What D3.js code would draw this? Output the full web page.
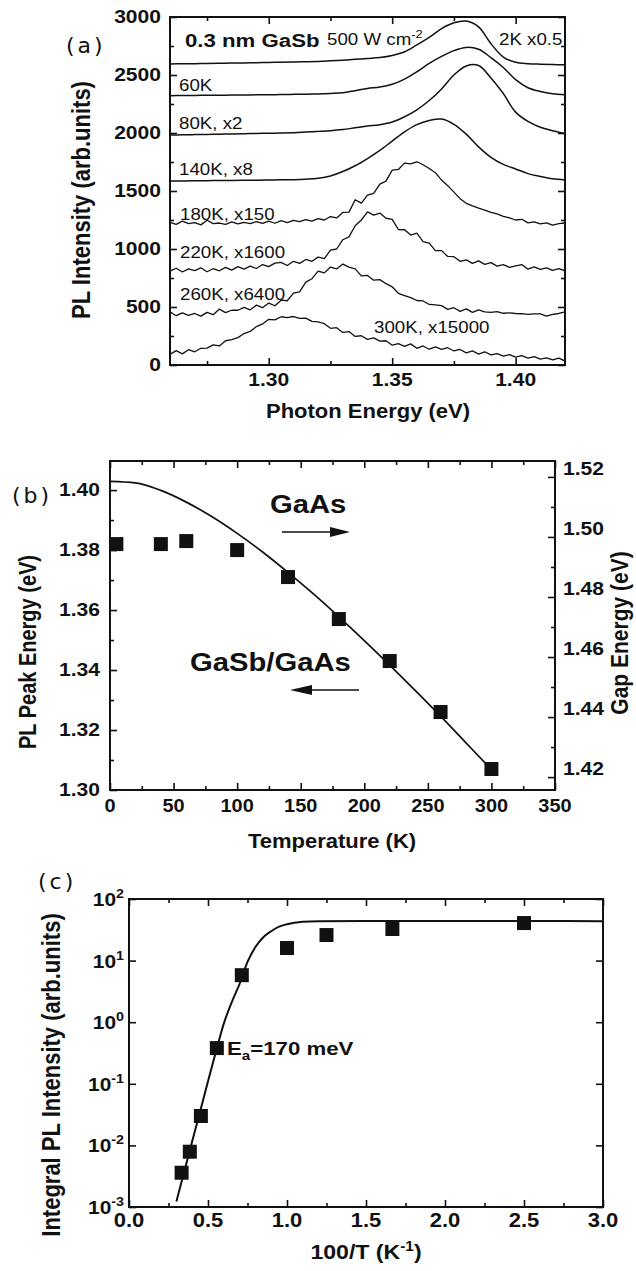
<!DOCTYPE html>
<html>
<head>
<meta charset="utf-8">
<script src="https://cdn.jsdelivr.net/npm/d3@7"></script>
<style>
body { margin:0; background:#fff; }
svg { display:block; font-family:"Liberation Sans", Arial, sans-serif; }
</style>
</head>
<body>
<script>
// ---------- panel (a): PL spectra ----------
var energyA = [1.260,1.265,1.270,1.275,1.280,1.285,1.290,1.295,1.300,1.305,1.310,1.315,1.320,1.325,1.330,1.335,1.340,
    1.345,1.350,1.355,1.360,1.365,1.370,1.375,1.380,1.385,1.390,1.395,1.400,1.405,1.410,1.415,1.420];
var pl2K = [2595,2597,2598,2600,2601,2603,2604,2606,2608,2610,2612,2614,2617,2622,2628,2635,2642,
    2650,2668,2700,2760,2825,2900,2950,2965,2915,2770,2655,2610,2598,2593,2590,2588];
var pl60K = [2322,2323,2324,2325,2326,2327,2328,2329,2330,2331,2333,2335,2337,2341,2347,2365,2384,
    2396,2420,2465,2528,2600,2660,2710,2738,2722,2650,2565,2460,2390,2358,2338,2330];
var pl80K = [1983,1984,1986,1988,1990,1992,1994,1996,1998,2000,2003,2008,2014,2020,2030,2045,2060,
    2072,2095,2140,2200,2280,2380,2500,2578,2582,2475,2340,2180,2100,2050,2020,1995];
var pl140K = [1586,1587,1588,1589,1590,1591,1592,1593,1594,1596,1598,1602,1610,1630,1668,1718,1780,
    1850,1930,2010,2072,2108,2120,2075,1990,1880,1790,1730,1690,1650,1625,1605,1595];

var energyN = [1.2600,1.2625,1.2650,1.2675,1.2700,1.2725,1.2750,1.2775,1.2800,1.2825,1.2850,1.2875,1.2900,
    1.2925,1.2950,1.2975,1.3000,1.3025,1.3050,1.3075,1.3100,1.3125,1.3150,1.3175,1.3200,1.3225,1.3250,
    1.3275,1.3300,1.3325,1.3350,1.3375,1.3400,1.3425,1.3450,1.3475,1.3500,1.3525,1.3550,1.3575,1.3600,
    1.3625,1.3650,1.3675,1.3700,1.3725,1.3750,1.3775,1.3800,1.3825,1.3850,1.3875,1.3900,1.3925,1.3950,
    1.3975,1.4000,1.4025,1.4050,1.4075,1.4100,1.4125,1.4150,1.4175,1.4200];
var pl180K = [1230,1212,1240,1218,1228,1208,1248,1219,1224,1212,1234,1216,1230,1218,1236,1220,1240,1222,
    1244,1228,1247,1236,1254,1240,1262,1250,1280,1268,1315,1318,1425,1395,1465,1480,1560,1585,1680,1686,
    1740,1734,1752,1726,1694,1658,1594,1546,1490,1434,1394,1372,1352,1336,1316,1302,1282,1268,1250,1256,
    1225,1234,1216,1226,1206,1218,1224];
var pl220K = [810,834,802,828,814,838,804,830,812,842,818,848,826,852,832,866,848,878,884,858,894,876,
    910,894,930,916,990,1000,1080,1105,1200,1250,1320,1292,1310,1265,1255,1168,1166,1120,1136,1064,1050,
    986,986,936,934,894,906,876,898,868,882,852,866,842,854,866,826,846,824,838,816,830,812];
var pl260K = [458,425,450,428,444,421,454,434,482,452,472,472,496,476,516,494,534,511,559,554,619,631,
    714,744,809,794,844,828,870,844,829,768,772,731,736,701,674,618,599,581,556,552,522,518,512,480,494,
    462,484,454,476,458,454,461,446,450,444,442,436,441,440,421,436,444,459];
var pl300K = [92,124,96,132,114,144,146,174,164,209,218,236,271,289,331,354,394,389,416,409,418,402,
    404,376,371,356,316,322,281,288,246,252,221,234,206,209,171,184,161,182,144,164,136,156,134,149,121,
    134,104,122,94,114,88,98,76,90,68,80,60,72,51,62,44,59,34];

var xTicksA = [1.30,1.35,1.40];
var xMinorA = [1.275,1.325,1.375];
var yTicksA = [0,500,1000,1500,2000,2500,3000];
var yMinorA = [250,750,1250,1750,2250,2750];

// ---------- panel (b): peak energy vs temperature ----------
var tempPL = [5,40,60,100,140,180,220,260,300];
var peakPL = [1.382,1.382,1.383,1.380,1.371,1.357,1.343,1.326,1.307];
var tempGap = [0,20,40,60,80,100,120,140,160,180,200,220,240,260,280,300];
var gapGaAs = [1.5185,1.5180,1.5155,1.5116,1.5068,1.5012,1.4950,1.4882,1.4810,1.4734,1.4655,1.4573,
    1.4489,1.4403,1.4314,1.4225];
var xTicksB = [0,50,100,150,200,250,300,350];
var xMinorB = [25,75,125,175,225,275,325];
var yTicksB = [1.30,1.32,1.34,1.36,1.38,1.40];
var yMinorB = [1.31,1.33,1.35,1.37,1.39];
var y2TicksB = [1.42,1.44,1.46,1.48,1.50,1.52];
var y2MinorB = [1.43,1.45,1.47,1.49,1.51];

// ---------- panel (c): integrated intensity vs 100/T ----------
var invT = [0.333,0.385,0.455,0.556,0.714,1.0,1.25,1.667,2.5];
var intPL = [0.0036,0.0079,0.030,0.38,5.8,16,26,32.6,40.7];
var fitX = [0.30,0.35,0.40,0.45,0.50,0.55,0.60,0.65,0.70,0.75,0.80,0.85,0.90,0.95,1.0,1.1,1.2,1.5,2.0,2.5,3.0];
var fitY = [0.00123,0.0038,0.0117,0.0355,0.11,0.33,0.95,2.1,4.2,9.5,16.6,24,30,35.5,39,42.7,43.6,43.9,43.9,43.8,43.7];
var xTicksC = [0.0,0.5,1.0,1.5,2.0,2.5,3.0];
var xMinorC = [0.25,0.75,1.25,1.75,2.25,2.75];
var yTicksC = [1e-3,1e-2,1e-1,1,10,100];
var yExpC = ["-3","-2","-1","0","1","2"];

var SX = 1.17;   // the scan is stretched sideways a bit
var ink = "#111";

var svg = d3.select("body").append("svg").attr("width",636).attr("height",1271);
svg.append("rect").attr("width",636).attr("height",1271).attr("fill","#fff");

var label = function(g, x, y, str, size, weight, anchor, sx)
{
    return g.append("text")
        .attr("transform","translate(" + x + "," + y + ") scale(" + (sx || SX) + ",1)")
        .attr("font-size", size)
        .attr("font-weight", weight || "normal")
        .attr("text-anchor", anchor || "start")
        .attr("fill", ink)
        .text(str);
}

var vlabel = function(g, x, y, str, size)
{
    return g.append("text")
        .attr("transform","translate(" + x + "," + y + ") rotate(-90) scale(1," + SX + ")")
        .attr("font-size", size)
        .attr("font-weight","bold")
        .attr("text-anchor","middle")
        .attr("fill", ink)
        .text(str);
}

var ticks = function(g, scale, orient, pos, values, len)
{
    var ax;
    if (orient == "bottom") ax = d3.axisBottom(scale);
    else if (orient == "top") ax = d3.axisTop(scale);
    else if (orient == "left") ax = d3.axisLeft(scale);
    else ax = d3.axisRight(scale);
    ax.tickValues(values).tickSize(-len).tickFormat("");
    var horiz = (orient == "bottom" || orient == "top");
    var t = g.append("g")
        .attr("transform", horiz ? "translate(0," + pos + ")" : "translate(" + pos + ",0)")
        .call(ax);
    t.select(".domain").remove();
    t.selectAll("line").attr("stroke", ink).attr("stroke-width", 1.6);
}

var frame = function(g, x, y)
{
    var r = x.range(), s = y.range();
    g.append("rect")
        .attr("x", r[0]).attr("y", s[1])
        .attr("width", r[1] - r[0]).attr("height", s[0] - s[1])
        .attr("fill","none").attr("stroke", ink).attr("stroke-width", 2);
}

var panelTag = function(g, x, y, str)
{
    g.append("text").attr("x", x).attr("y", y)
        .attr("font-family","'DejaVu Sans', sans-serif")
        .attr("font-size", 22)
        .attr("letter-spacing", 3)
        .attr("fill", ink)
        .text(str);
}

// ================= panel (a) =================
var ga = svg.append("g");
var xa = d3.scaleLinear().domain([1.26,1.42]).range([170,565]);
var ya = d3.scaleLinear().domain([0,3000]).range([365,17]);

ga.append("clipPath").attr("id","clipA")
    .append("rect").attr("x",170).attr("y",17).attr("width",395).attr("height",348);

var smoothLine = d3.line()
    .x(function(d){return xa(d[0])})
    .y(function(d){return ya(d[1])})
    .curve(d3.curveCatmullRom.alpha(0.5));
var noisyLine = d3.line()
    .x(function(d){return xa(d[0])})
    .y(function(d){return ya(d[1])});

[pl2K, pl60K, pl80K, pl140K].forEach(function(s)
{
    ga.append("path").datum(d3.zip(energyA, s))
        .attr("clip-path","url(#clipA)")
        .attr("d", smoothLine)
        .attr("fill","none").attr("stroke", ink).attr("stroke-width", 1.5);
});
[pl180K, pl220K, pl260K, pl300K].forEach(function(s)
{
    ga.append("path").datum(d3.zip(energyN, s))
        .attr("clip-path","url(#clipA)")
        .attr("d", noisyLine)
        .attr("fill","none").attr("stroke", ink).attr("stroke-width", 1.3)
        .attr("stroke-linejoin","round");
});

frame(ga, xa, ya);
ticks(ga, xa, "bottom", 365, xTicksA, 7);
ticks(ga, xa, "bottom", 365, xMinorA, 4);
ticks(ga, xa, "top", 17, xTicksA, 7);
ticks(ga, xa, "top", 17, xMinorA, 4);
ticks(ga, ya, "left", 170, yTicksA, 7);
ticks(ga, ya, "left", 170, yMinorA, 4);
ticks(ga, ya, "right", 565, yTicksA, 7);
ticks(ga, ya, "right", 565, yMinorA, 4);

yTicksA.forEach(function(v){ label(ga, 161, ya(v) + 6, String(v), 18, "bold", "end"); });
xTicksA.forEach(function(v){ label(ga, xa(v), 386, v.toFixed(2), 18, "bold", "middle"); });
label(ga, 368, 418, "Photon Energy (eV)", 20, "bold", "middle", 1.1);
vlabel(ga, 90, 200, "PL Intensity (arb.units)", 22);
panelTag(ga, 66, 53, "(a)");

label(ga, 185, 47, "0.3 nm GaSb", 19, "bold");
var wcm = label(ga, 327, 45, "500 W cm", 16);
wcm.append("tspan").attr("dy", -7).attr("font-size", 11).text("-2");
label(ga, 499, 45, "2K x0.5", 16);
label(ga, 179, 91, "60K", 16);
label(ga, 179, 129, "80K, x2", 16);
label(ga, 179, 175, "140K, x8", 16);
label(ga, 180, 220, "180K, x150", 16);
label(ga, 180, 258, "220K, x1600", 16);
label(ga, 180, 300, "260K, x6400", 16);
label(ga, 374, 333, "300K, x15000", 16);

// ================= panel (b) =================
var gb = svg.append("g");
var xb = d3.scaleLinear().domain([0,350]).range([110,555]);
var yb = d3.scaleLinear().domain([1.30,1.4097]).range([790,461]);
var yb2 = d3.scaleLinear().domain([1.4157,1.5253]).range([790,461]);

gb.append("path").datum(d3.zip(tempGap, gapGaAs))
    .attr("d", d3.line()
        .x(function(d){return xb(d[0])})
        .y(function(d){return yb2(d[1])})
        .curve(d3.curveMonotoneX))
    .attr("fill","none").attr("stroke", ink).attr("stroke-width", 1.7);

gb.selectAll("rect.pt").data(d3.zip(tempPL, peakPL)).enter()
    .append("rect").attr("class","pt")
    .attr("x", function(d){return xb(d[0]) - 7})
    .attr("y", function(d){return yb(d[1]) - 7})
    .attr("width", 14).attr("height", 14)
    .attr("fill", ink);

frame(gb, xb, yb);
ticks(gb, xb, "bottom", 790, xTicksB, 7);
ticks(gb, xb, "bottom", 790, xMinorB, 4);
ticks(gb, xb, "top", 461, xTicksB, 7);
ticks(gb, xb, "top", 461, xMinorB, 4);
ticks(gb, yb, "left", 110, yTicksB, 7);
ticks(gb, yb, "left", 110, yMinorB, 4);
ticks(gb, yb2, "right", 555, y2TicksB, 7);
ticks(gb, yb2, "right", 555, y2MinorB, 4);

yTicksB.forEach(function(v){ label(gb, 100, yb(v) + 6, v.toFixed(2), 18, "bold", "end"); });
y2TicksB.forEach(function(v){ label(gb, 563, yb2(v) - 2, v.toFixed(2), 18, "bold", "start"); });
xTicksB.forEach(function(v){ label(gb, xb(v), 812, String(v), 19, "bold", "middle", 1.05); });
label(gb, 332, 848, "Temperature (K)", 20, "bold", "middle", 1.1);
vlabel(gb, 36, 652, "PL Peak Energy (eV)", 20);
vlabel(gb, 628, 633, "Gap Energy (eV)", 21);
panelTag(gb, 12, 503, "(b)");

label(gb, 270, 513, "GaAs", 25, "bold");
label(gb, 190, 671, "GaSb/GaAs", 25, "bold");

var arrow = function(g, x1, x2, y, head)
{
    var dir = x2 > x1 ? 1 : -1;
    g.append("line").attr("x1", x1).attr("x2", x2 - dir * head * 0.8)
        .attr("y1", y).attr("y2", y)
        .attr("stroke", ink).attr("stroke-width", 1.6);
    g.append("path")
        .attr("d", "M" + x2 + "," + y + " L" + (x2 - dir * head) + "," + (y - 5) +
              " L" + (x2 - dir * head) + "," + (y + 5) + " Z")
        .attr("fill", ink);
}
arrow(gb, 282, 350, 532, 20);
arrow(gb, 359, 290, 690, 22);

// ================= panel (c) =================
var gc = svg.append("g");
var xc = d3.scaleLinear().domain([0,3]).range([129,603]);
var yc = d3.scaleLog().domain([1e-3,1e2]).range([1207,899]);

gc.append("path").datum(d3.zip(fitX, fitY))
    .attr("d", d3.line()
        .x(function(d){return xc(d[0])})
        .y(function(d){return yc(d[1])})
        .curve(d3.curveMonotoneX))
    .attr("fill","none").attr("stroke", ink).attr("stroke-width", 2);

gc.selectAll("rect.pt").data(d3.zip(invT, intPL)).enter()
    .append("rect").attr("class","pt")
    .attr("x", function(d){return xc(d[0]) - 7})
    .attr("y", function(d){return yc(d[1]) - 7})
    .attr("width", 14).attr("height", 14)
    .attr("fill", ink);

frame(gc, xc, yc);
ticks(gc, xc, "bottom", 1207, xTicksC, 7);
ticks(gc, xc, "bottom", 1207, xMinorC, 4);
ticks(gc, xc, "top", 899, xTicksC, 7);
ticks(gc, xc, "top", 899, xMinorC, 4);
ticks(gc, yc, "left", 129, yTicksC, 7);
ticks(gc, yc, "right", 603, yTicksC, 7);

yTicksC.forEach(function(v, i)
{
    var t = label(gc, 124, yc(v) + 7, "10", 19, "bold", "end", 1.1);
    t.append("tspan").attr("dy", -8).attr("font-size", 13).text(yExpC[i]);
});
xTicksC.forEach(function(v){ label(gc, xc(v), 1227, v.toFixed(1), 20, "bold", "middle", 1.1); });
var xl = label(gc, 366, 1259, "100/T (K", 21, "bold", "middle", 1.1);
xl.append("tspan").attr("dy", -8).attr("font-size", 14).text("-1");
xl.append("tspan").attr("dy", 8).text(")");
vlabel(gc, 60, 1075, "Integral PL Intensity (arb.units)", 22);
panelTag(gc, 38, 889, "(c)");

var ea = label(gc, 227, 1055, "E", 19, "bold");
ea.append("tspan").attr("dy", 5).attr("font-size", 13).text("a");
ea.append("tspan").attr("dy", -5).text("=170 meV");
</script>
</body>
</html>
